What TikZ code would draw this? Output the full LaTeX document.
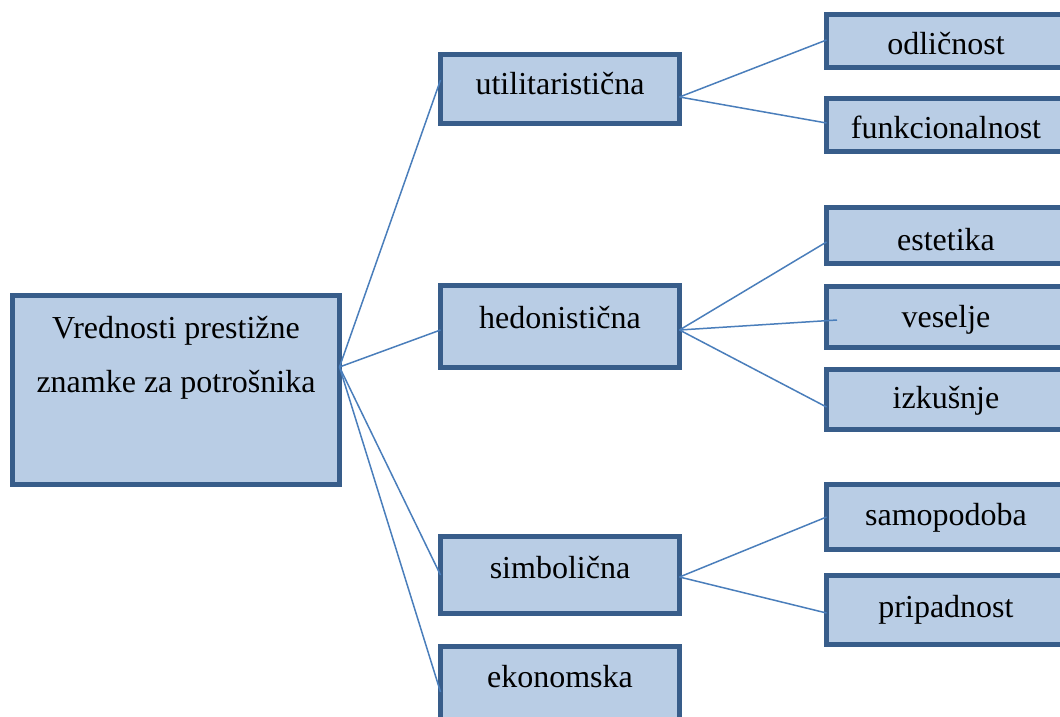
\documentclass[tikz,border=0pt]{standalone}
\usepackage{fontspec}
\setmainfont{Liberation Serif}
\usetikzlibrary{calc}
\definecolor{boxfill}{HTML}{B9CDE5}
\definecolor{boxline}{HTML}{385D8A}
\definecolor{conn}{HTML}{4A7EBB}
\begin{document}
\begin{tikzpicture}[x=1pt,y=-1pt,
  box/.style={draw=boxline, fill=boxfill, line width=5pt, inner sep=0pt, outer sep=0pt, minimum width=239pt},
  lbl/.style={anchor=base, font=\fontsize{32}{38}\selectfont, inner sep=0pt, text=black},
  link/.style={draw=conn, line width=1.5pt}]
\useasboundingbox (0,0) rectangle (1060,717);
\clip (0,0) rectangle (1060,717);

% root
\node[box, minimum width=327pt, minimum height=189pt] (root) at (176,390) {};
\node[lbl] (troot1) at (176,338) {Vrednosti prestižne};
\node[lbl] (troot2) at (176,392) {znamke za potrošnika};

% level 1
\node[box, minimum height=69pt] (util) at (560,89) {};
\node[box, minimum height=82pt] (hedon) at (560,326.5) {};
\node[box, minimum height=77pt] (simb) at (560,575) {};
\node[box, minimum height=80pt] (ekon) at (560,686.5) {};
\node[lbl] (tutil) at (560,95) {utilitaristična};
\node[lbl] (thedon) at (560,328) {hedonistična};
\node[lbl] (tsimb) at (560,578) {simbolična};
\node[lbl] (tekon) at (560,687) {ekonomska};

% level 2
\node[box, minimum height=53pt] (odl) at (946,41) {};
\node[box, minimum height=53pt] (funk) at (946,125) {};
\node[box, minimum height=56pt] (estet) at (946,235.5) {};
\node[box, minimum height=61pt] (vesel) at (946,317) {};
\node[box, minimum height=60pt] (izk) at (946,399.5) {};
\node[box, minimum height=65pt] (samo) at (946,517) {};
\node[box, minimum height=69pt] (prip) at (946,610) {};
\node[lbl] (todl) at (946,55) {odličnost};
\node[lbl] (tfunk) at (946,138) {funkcionalnost};
\node[lbl] (testet) at (946,250) {estetika};
\node[lbl] (tvesel) at (946,327) {veselje};
\node[lbl] (tizk) at (946,408) {izkušnje};
\node[lbl] (tsamo) at (946,525) {samopodoba};
\node[lbl] (tprip) at (946,617) {pripadnost};

% connectors
\coordinate (rootp) at ($(root.east)+(0,-23)$);
\draw[link] (rootp) -- ($(util.west)+(0,-9)$);
\draw[link] (rootp) -- ($(hedon.west)+(0,3.5)$);
\draw[link] (rootp) -- ($(simb.west)+(0,0)$);
\draw[link] (rootp) -- ($(ekon.west)+(0,5.5)$);

\coordinate (utilp) at ($(util.east)+(0,8)$);
\draw[link] (utilp) -- ($(odl.west)+(0,-1)$);
\draw[link] (utilp) -- ($(funk.west)+(0,-2)$);

\coordinate (hedonp) at ($(hedon.east)+(0,3.5)$);
\draw[link] (hedonp) -- ($(estet.west)+(0,6.5)$);
\draw[link] (hedonp) -- ($(vesel.west)+(10.5,3)$);
\draw[link] (hedonp) -- ($(izk.west)+(0,7.5)$);

\coordinate (simbp) at ($(simb.east)+(0,2)$);
\draw[link] (simbp) -- (samo.west);
\draw[link] (simbp) -- ($(prip.west)+(0,3)$);
\end{tikzpicture}
\end{document}
